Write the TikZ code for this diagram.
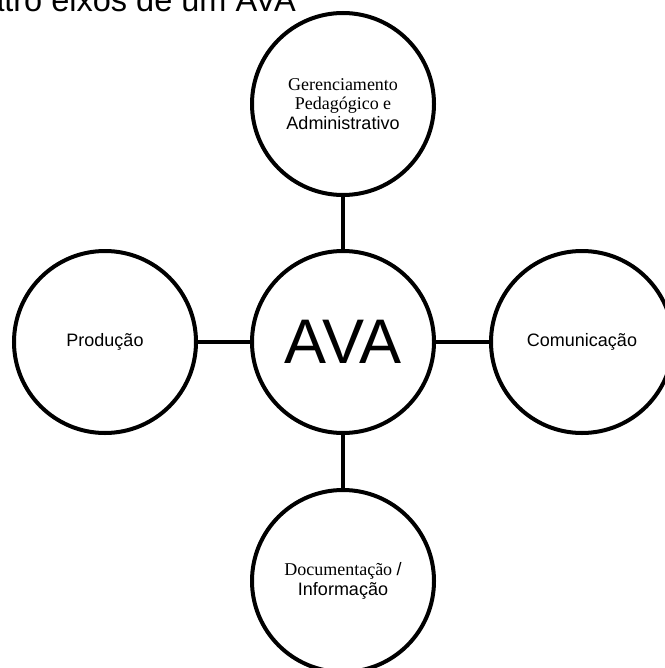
\documentclass[tikz,border=0pt]{standalone}
\usepackage{fontspec}
\setmainfont{Liberation Serif}
\newfontfamily\arialf{Liberation Sans}
\begin{document}
\begin{tikzpicture}[x=1bp,y=-1bp,
  axis/.style={circle,draw=black,line width=4bp,minimum size=182bp,inner sep=0pt,
    align=center,font=\fontsize{18bp}{19.5bp}\selectfont},
  link/.style={draw=black,line width=4bp}]
\useasboundingbox (0,0) rectangle (665,668);
\node[anchor=base east,font=\arialf\fontsize{32.5bp}{36bp}\selectfont,inner sep=0pt] (title) at (296,11.5) {Quatro eixos de um AVA};
\node[axis] (ava) at (343,342) {\arialf\fontsize{63bp}{66bp}\selectfont AVA};
\node[axis] (ger) at (343,104) {Gerenciamento\\Pedagógico e\\{\arialf Administrativo}};
\node[axis] (prod) at (105,342) {\arialf Produção};
\node[axis] (com) at (582,342) {\arialf Comunicação};
\node[axis] (doc) at (343,581) {Documentação {\arialf /}\\{\arialf Informação}};
\draw[link] (ger) -- (ava);
\draw[link] (prod) -- (ava);
\draw[link] (ava) -- (com);
\draw[link] (ava) -- (doc);
\end{tikzpicture}
\end{document}
